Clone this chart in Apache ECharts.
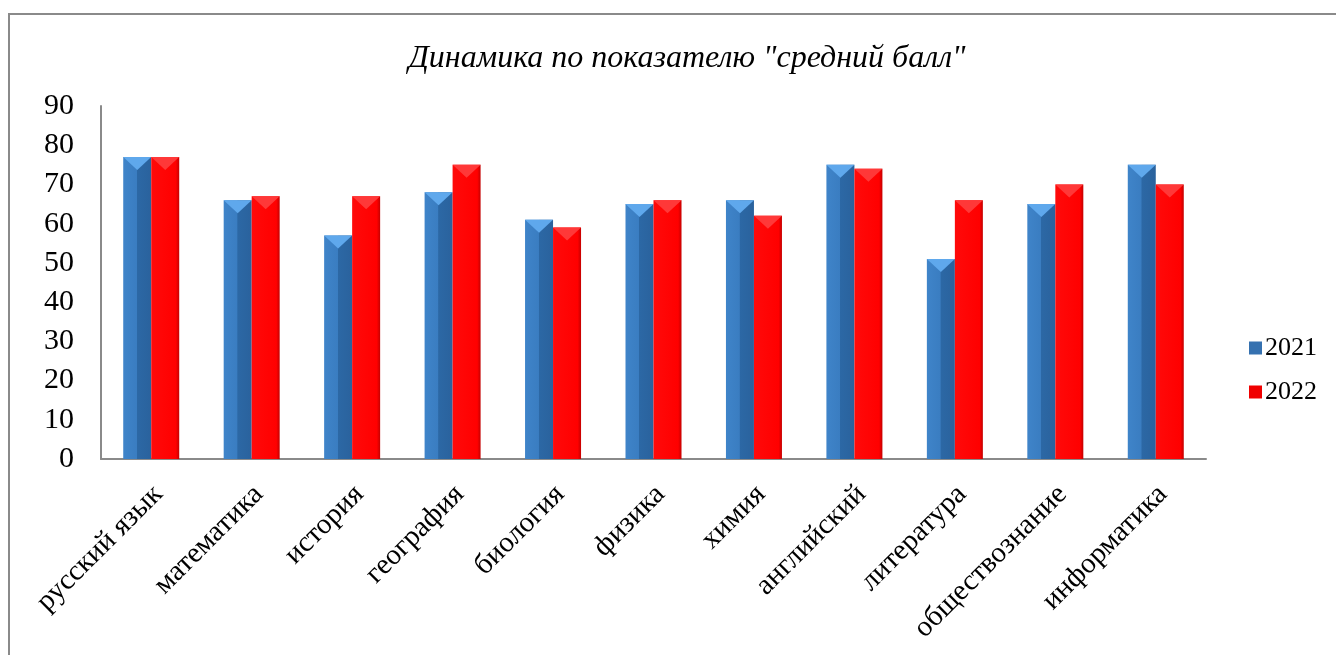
<!DOCTYPE html>
<html><head><meta charset="utf-8">
<script src="https://cdn.jsdelivr.net/npm/echarts@6/dist/echarts.min.js"></script>
<style>html,body{margin:0;padding:0;background:#fff}#c{width:1336px;height:655px}</style>
</head><body><div id="c"></div>
<script>
const categories = ['русский язык','математика','история','география','биология','физика','химия','английский','литература','обществознание','информатика'];
const values2021 = [77, 66, 57, 68, 61, 65, 66, 75, 51, 65, 75];
const values2022 = [77, 67, 67, 75, 59, 66, 62, 74, 66, 70, 70];
const yTicks = [0, 90, 10];
const seriesNames = ['2021', '2022'];
const titleText = 'Динамика по показателю "средний балл"';

const font = '"Liberation Serif", "Times New Roman", serif';
const blue = new echarts.graphic.LinearGradient(0,0,1,0,[
  {offset:0,color:'#3F84C9'},{offset:0.48,color:'#3A7DC1'},{offset:0.5,color:'#2C68A5'},{offset:1,color:'#2A629D'}]);
const red = new echarts.graphic.LinearGradient(0,0,1,0,[
  {offset:0,color:'#FF0A0A'},{offset:0.88,color:'#FF0000'},{offset:1,color:'#C40000'}]);
const tri = 'path://M0,0 L2,0 L1,1 Z';

const chart = echarts.init(document.getElementById('c'));
chart.setOption({
  backgroundColor:'#fff',
  animation:false,
  graphic:[{type:'rect',shape:{x:9,y:14,width:1400,height:700},style:{fill:'none',stroke:'#8a8a8a',lineWidth:2},silent:true}],
  title:{text:titleText,left:682,top:38,textAlign:'center',
    textStyle:{fontFamily:font,fontStyle:'italic',fontWeight:'normal',fontSize:32,color:'#000'}},
  legend:{orient:'vertical',left:1244,top:330,itemGap:18,itemWidth:13,itemHeight:13,icon:'rect',
    textStyle:{fontFamily:font,fontSize:26,lineHeight:26,color:'#000',padding:[0,0,0,-2]},
    data:[{name:seriesNames[0],itemStyle:{color:'#3571B0'}},{name:seriesNames[1],itemStyle:{color:'#F00000'}}]},
  grid:{left:101,right:130,top:106,bottom:196,containLabel:false},
  xAxis:{type:'category',data:categories,
    axisLine:{lineStyle:{color:'#8a8a8a',width:2}},axisTick:{show:false},
    axisLabel:{rotate:45,interval:0,margin:38,padding:[0,-10,0,0],fontFamily:font,fontSize:29,color:'#000'}},
  yAxis:{type:'value',min:yTicks[0],max:yTicks[1],interval:yTicks[2],
    axisLine:{show:true,lineStyle:{color:'#8a8a8a',width:2}},axisTick:{show:false},splitLine:{show:false},
    axisLabel:{margin:27,fontFamily:font,fontSize:30,color:'#000'}},
  series:[
    {name:seriesNames[0],type:'bar',data:values2021,barWidth:28,barGap:'0%',itemStyle:{color:blue},z:2},
    {name:seriesNames[1],type:'bar',data:values2022,barWidth:28,barGap:'0%',itemStyle:{color:red},z:2},
    {name:'t2021',type:'pictorialBar',data:values2021,barWidth:28,barGap:'0%',symbol:tri,symbolSize:[28,13],
      symbolPosition:'end',symbolOffset:[0,0],itemStyle:{color:'#5FA8EC'},z:3,silent:true},
    {name:'t2022',type:'pictorialBar',data:values2022,barWidth:28,barGap:'0%',symbol:tri,symbolSize:[28,13],
      symbolPosition:'end',symbolOffset:[0,0],itemStyle:{color:'#FF3838'},z:3,silent:true}
  ]
});
</script></body></html>
